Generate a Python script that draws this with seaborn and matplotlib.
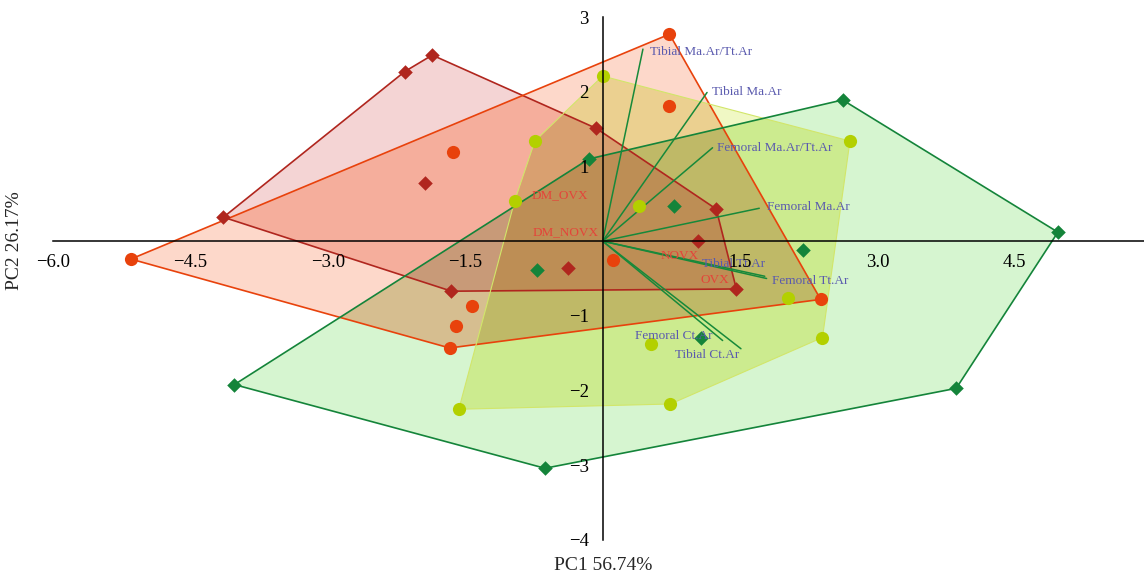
from itertools import combinations

import numpy as np
import pandas as pd
import matplotlib.pyplot as plt
import seaborn as sns

# PCA scores per group
dm_ovx_pc1 = [-1.86, -2.16, -4.14, -1.94, -0.07, 1.24, 1.04, -0.38, -1.65, 1.46]
dm_ovx_pc2 = [2.49, 2.27, 0.32, 0.78, 1.51, 0.43, 0.00, -0.36, -0.67, -0.64]

dm_novx_pc1 = [0.73, 0.73, -1.63, -5.15, 0.11, -1.43, -1.60, -1.67, 2.38]
dm_novx_pc2 = [2.77, 1.81, 1.19, -0.24, -0.25, -0.87, -1.13, -1.43, -0.78]

novx_pc1 = [0.00, -0.74, -0.96, 0.40, 2.70, 2.02, 2.40, 0.53, 0.74, -1.57]
novx_pc2 = [2.21, 1.34, 0.54, 0.47, 1.34, -0.76, -1.29, -1.37, -2.18, -2.25]

ovx_pc1 = [2.62, 4.97, 3.86, -0.63, -4.02, -0.15, 0.78, 2.19, -0.72, 1.07]
ovx_pc2 = [1.89, 0.12, -1.97, -3.04, -1.92, 1.10, 0.47, -0.12, -0.39, -1.29]

# loading vectors
var_names = ["Tibial Ma.Ar/Tt.Ar", "Tibial Ma.Ar", "Femoral Ma.Ar/Tt.Ar", "Femoral Ma.Ar",
             "Tibial Tt.Ar", "Femoral Tt.Ar", "Femoral Ct.Ar", "Tibial Ct.Ar"]
load_pc1 = [0.44, 1.14, 1.20, 1.71, 1.77, 1.79, 1.31, 1.51]
load_pc2 = [2.57, 1.99, 1.25, 0.44, -0.47, -0.50, -1.33, -1.44]

xticks = [-6.0, -4.5, -3.0, -1.5, 1.5, 3.0, 4.5]
yticks = [-4, -3, -2, -1, 1, 2, 3]

df = pd.concat([
    pd.DataFrame({"PC1": dm_ovx_pc1, "PC2": dm_ovx_pc2, "group": "DM_OVX"}),
    pd.DataFrame({"PC1": dm_novx_pc1, "PC2": dm_novx_pc2, "group": "DM_NOVX"}),
    pd.DataFrame({"PC1": novx_pc1, "PC2": novx_pc2, "group": "NOVX"}),
    pd.DataFrame({"PC1": ovx_pc1, "PC2": ovx_pc2, "group": "OVX"}),
], ignore_index=True)

groups = ["DM_OVX", "DM_NOVX", "NOVX", "OVX"]

# styling per group
edge_col = {"DM_OVX": "#B0261E", "DM_NOVX": "#E8420C", "NOVX": "#B3D000", "OVX": "#14843A"}
marker = {"DM_OVX": "D", "DM_NOVX": "o", "NOVX": "o", "OVX": "D"}
msize = {"DM_OVX": 55, "DM_NOVX": 90, "NOVX": 90, "OVX": 55}

# colour of each overlap of hull areas, as seen in the reference
region_col = {
    ("DM_OVX",): "#F4D4D4",
    ("DM_NOVX",): "#FDD8CA",
    ("NOVX",): "#F0F8C4",
    ("OVX",): "#D6F5D0",
    ("DM_OVX", "DM_NOVX"): "#F5AE9C",
    ("DM_OVX", "NOVX"): "#E0C492",
    ("DM_OVX", "OVX"): "#C8BE9A",
    ("DM_NOVX", "NOVX"): "#EBD090",
    ("DM_NOVX", "OVX"): "#D6BE90",
    ("NOVX", "OVX"): "#CCEB8F",
    ("DM_OVX", "DM_NOVX", "NOVX"): "#D9A070",
    ("DM_OVX", "DM_NOVX", "OVX"): "#C89A78",
    ("DM_OVX", "NOVX", "OVX"): "#B8B870",
    ("DM_NOVX", "NOVX", "OVX"): "#BFB967",
    ("DM_OVX", "DM_NOVX", "NOVX", "OVX"): "#BD8E55",
}

# label placement offsets (pixels) and alignment for loading labels
load_off = [(7, -3, "left"), (5, 0, "left"), (4, 0, "left"), (8, 1, "left"),
            (0, 12, "right"), (5, -2, "left"), (-10, 5, "right"), (-2, -6, "right")]


def cross(o, a, b):
    return (a[0] - o[0]) * (b[1] - o[1]) - (a[1] - o[1]) * (b[0] - o[0])


def hull(points):
    pts = sorted(set(map(tuple, points)))
    lower, upper = [], []
    for p in pts:
        while len(lower) >= 2 and cross(lower[-2], lower[-1], p) <= 0:
            lower.pop()
        lower.append(p)
    for p in reversed(pts):
        while len(upper) >= 2 and cross(upper[-2], upper[-1], p) <= 0:
            upper.pop()
        upper.append(p)
    return lower[:-1] + upper[:-1]


def clip(subject, clipper):
    # convex polygon intersection (Sutherland-Hodgman), both counter-clockwise
    out = list(subject)
    for i in range(len(clipper)):
        a, b = clipper[i], clipper[(i + 1) % len(clipper)]
        inp, out = out, []
        for j in range(len(inp)):
            p, q = inp[j], inp[(j + 1) % len(inp)]
            pin, qin = cross(a, b, p) >= 0, cross(a, b, q) >= 0
            if pin:
                out.append(p)
            if pin != qin:
                d1, d2 = cross(a, b, p), cross(a, b, q)
                t = d1 / (d1 - d2)
                out.append((p[0] + t * (q[0] - p[0]), p[1] + t * (q[1] - p[1])))
        if not out:
            break
    return out


sns.set_style("white")
plt.rcParams["font.family"] = ["Liberation Serif", "DejaVu Serif"]

fig = plt.figure(figsize=(11.44, 5.77), dpi=100)
ax = fig.add_axes([53 / 1144, 37 / 577, 1091 / 1144, 523 / 577])

hulls = {g: hull(df.loc[df["group"] == g, ["PC1", "PC2"]].values) for g in groups}

# paint the hull areas and their overlaps
for k in range(1, 5):
    for combo in combinations(groups, k):
        poly = hulls[combo[0]]
        for g in combo[1:]:
            poly = clip(poly, hulls[g])
            if not poly:
                break
        if len(poly) < 3:
            continue
        poly = np.array(poly)
        ax.fill(poly[:, 0], poly[:, 1], color=region_col[combo], lw=0, zorder=1)

for g in groups:
    h = np.array(hulls[g])
    if g == "NOVX":
        ax.fill(h[:, 0], h[:, 1], fill=False, edgecolor="#D2E66A", lw=0.8, zorder=2)
    else:
        ax.fill(h[:, 0], h[:, 1], fill=False, edgecolor=edge_col[g], lw=1.2, zorder=2)

# loadings
for i, name in enumerate(var_names):
    ax.plot([0, load_pc1[i]], [0, load_pc2[i]], color="#17893A", lw=1.1, zorder=3)
    dx, dy, ha = load_off[i]
    ax.annotate(name, (load_pc1[i], load_pc2[i]), xytext=(dx * 0.72, dy * 0.72),
                textcoords="offset points", ha=ha, va="center",
                fontsize=9.5, color="#5A5AAE", zorder=5)

for g in groups:
    sub = df[df["group"] == g]
    sns.scatterplot(data=sub, x="PC1", y="PC2", marker=marker[g], s=msize[g],
                    color=edge_col[g], linewidth=0, ax=ax, zorder=4, legend=False)

# group labels at centroids
cent = df.groupby("group")[["PC1", "PC2"]].mean()
for g in groups:
    ax.annotate(g, (cent.loc[g, "PC1"], cent.loc[g, "PC2"]), xytext=(5, 0),
                textcoords="offset points", ha="left", va="center",
                fontsize=9.5, color="#E4443A", zorder=5)

ax.set_xlim(-6, 5.91)
ax.set_ylim(-4, 3)
ax.set_axisbelow(False)
ax.spines["left"].set_position(("data", 0))
ax.spines["bottom"].set_position(("data", 0))
ax.spines["top"].set_visible(False)
ax.spines["right"].set_visible(False)
for s in ["left", "bottom"]:
    ax.spines[s].set_color("black")
    ax.spines[s].set_linewidth(1.1)
    ax.spines[s].set_zorder(6)
ax.xaxis.set_zorder(6)
ax.yaxis.set_zorder(6)

ax.set_xticks(xticks)
ax.set_xticklabels([f"{v:.1f}".replace("-", "\u2212") for v in xticks])
ax.set_yticks(yticks)
ax.set_yticklabels([f"{v}".replace("-", "\u2212") for v in yticks])
ax.tick_params(axis="x", direction="in", length=4, width=1, pad=9, labelsize=13.5,
               colors="black")
ax.tick_params(axis="y", direction="out", length=4, width=1, pad=6, labelsize=13.5,
               colors="black")
ax.set_xlabel("")
ax.set_ylabel("")
ax.patch.set_alpha(0)

fig.text(603 / 1144, 1 - 565 / 577, "PC1 56.74%", ha="center", va="center", fontsize=14)
fig.text(15 / 1144, 1 - 241 / 577, "PC2 26.17%", ha="center", va="center",
         rotation=90, fontsize=14)

fig.savefig("out.png", dpi=100)
